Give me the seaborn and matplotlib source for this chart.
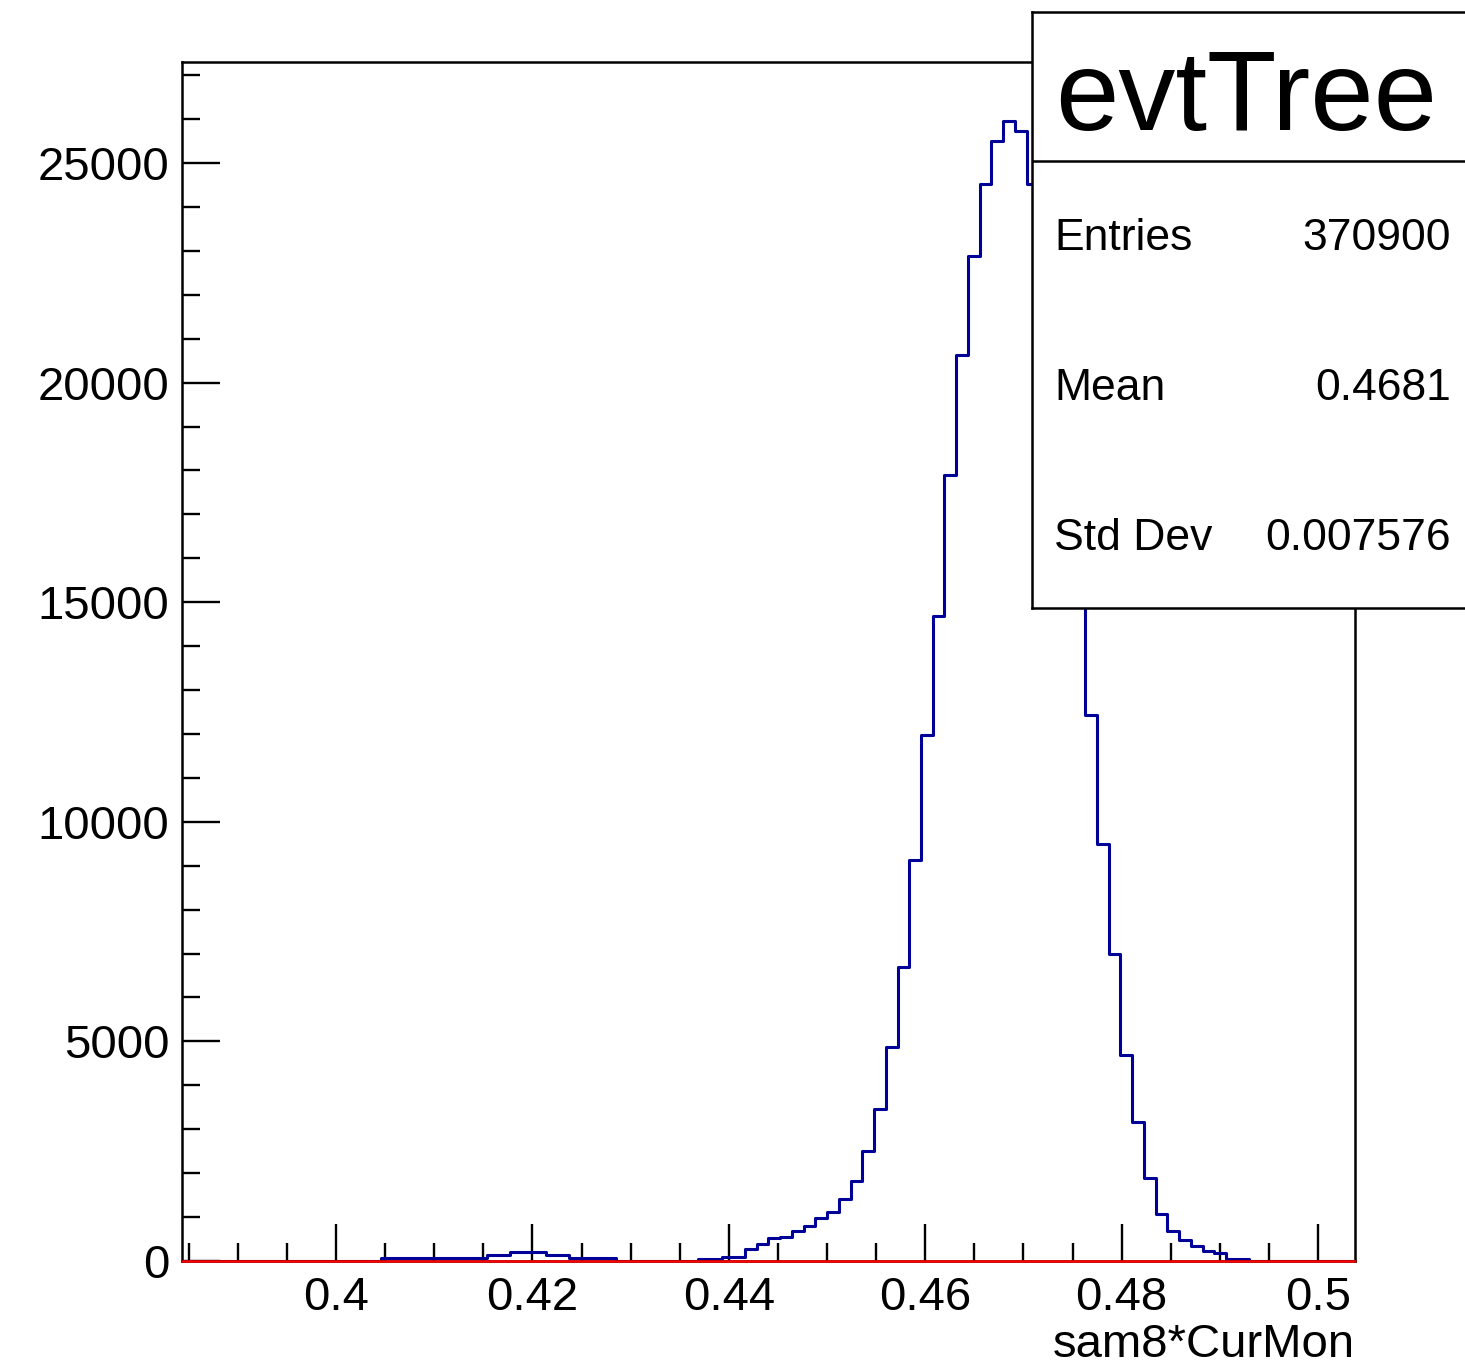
import numpy as np
import pandas as pd
import matplotlib
matplotlib.use("Agg")
import matplotlib.pyplot as plt
import seaborn as sns
from matplotlib.ticker import MultipleLocator, FuncFormatter

# ========== DATA ==========
X_MIN, X_MAX = 0.38431, 0.50377
N_BINS = 100

counts = (
    [0] * 17
    + [60] * 9
    + [130, 130]
    + [210, 210, 210]
    + [130, 130]
    + [60] * 4
    + [0] * 7
    + [50, 50, 100, 100, 265, 380, 517, 553, 690, 804, 973, 1123]
    + [1419, 1823, 2499, 3452, 4876, 6685, 9130, 11978]
    + [14696, 17902, 20633, 22884, 24527, 25502, 25956, 25730, 24516]
    + [23000, 21000, 18200, 15000]
    + [12440, 9500, 6995, 4682, 3174, 1891, 1071, 674, 478, 346, 228, 173, 46, 46]
    + [0] * 9
)

hist_name = "evtTree"
stat_names = ["Entries", "Mean", "Std Dev"]
stat_values = ["370900", "0.4681", "0.007576"]
x_label = "sam8*CurMon"

edges = np.linspace(X_MIN, X_MAX, N_BINS + 1)
centers = 0.5 * (edges[:-1] + edges[1:])
df = pd.DataFrame({"x": centers, "w": counts})

# ========== STYLE ==========
sns.set_style("ticks")
plt.rcParams["font.family"] = ["Liberation Sans", "DejaVu Sans"]
plt.rcParams.update({"text.color": "black", "axes.labelcolor": "black",
                     "xtick.color": "black", "ytick.color": "black",
                     "axes.edgecolor": "black"})

W, H = 1465, 1370
fig = plt.figure(figsize=(W / 100, H / 100), dpi=100)
ax = fig.add_axes([182 / W, 1 - 1261 / H, (1355 - 182) / W, (1261 - 62) / H])

sns.histplot(data=df, x="x", weights="w", bins=N_BINS, binrange=(X_MIN, X_MAX),
             element="step", fill=False, color="#000099", linewidth=2.2, ax=ax)
ax.axhline(0, color="#ff0000", lw=1.8, zorder=5, clip_on=False)

ax.set_xlim(X_MIN, X_MAX)
ax.set_ylim(0, 27300)
ax.set_ylabel("")

fmt = FuncFormatter(lambda v, p: f"{round(v, 4):g}")
ax.xaxis.set_major_locator(MultipleLocator(0.02))
ax.xaxis.set_minor_locator(MultipleLocator(0.005))
ax.yaxis.set_major_locator(MultipleLocator(5000))
ax.yaxis.set_minor_locator(MultipleLocator(1000))
ax.xaxis.set_major_formatter(fmt)
ax.yaxis.set_major_formatter(fmt)

ax.tick_params(which="both", direction="in", width=1.7, color="black",
               labelcolor="black", labelsize=34, top=False, right=False)
ax.tick_params(which="major", length=27)
ax.tick_params(which="minor", length=13)
ax.tick_params(axis="x", pad=11)
ax.tick_params(axis="y", pad=9)

for s in ax.spines.values():
    s.set_linewidth(1.8)
    s.set_color("black")

ax.set_xlabel(x_label, fontsize=34, loc="right", color="black")
ax.xaxis.set_label_coords(1.0, -0.070)
ax.xaxis.label.set_va("center")

# ========== STATS BOX ==========
box = fig.add_axes([1032 / W, 1 - 608 / H, 0.32, (608 - 12) / H])
box.set_facecolor("white")
box.set_xticks([])
box.set_yticks([])
for s in box.spines.values():
    s.set_linewidth(1.8)
    s.set_color("black")
box.axhline(0.75, color="black", lw=1.8)

fig.text(1055 / W, 1 - 130 / H, hist_name, fontsize=82, va="baseline", ha="left", color="black")
for i, (name, val) in enumerate(zip(stat_names, stat_values)):
    yc = 1 - (238 + 150 * i) / H
    fig.text(1054 / W, yc, name, fontsize=32, va="center", ha="left", color="black")
    fig.text(1451 / W, yc, val, fontsize=32, va="center", ha="right", color="black")

fig.savefig("out.png", dpi=100)
